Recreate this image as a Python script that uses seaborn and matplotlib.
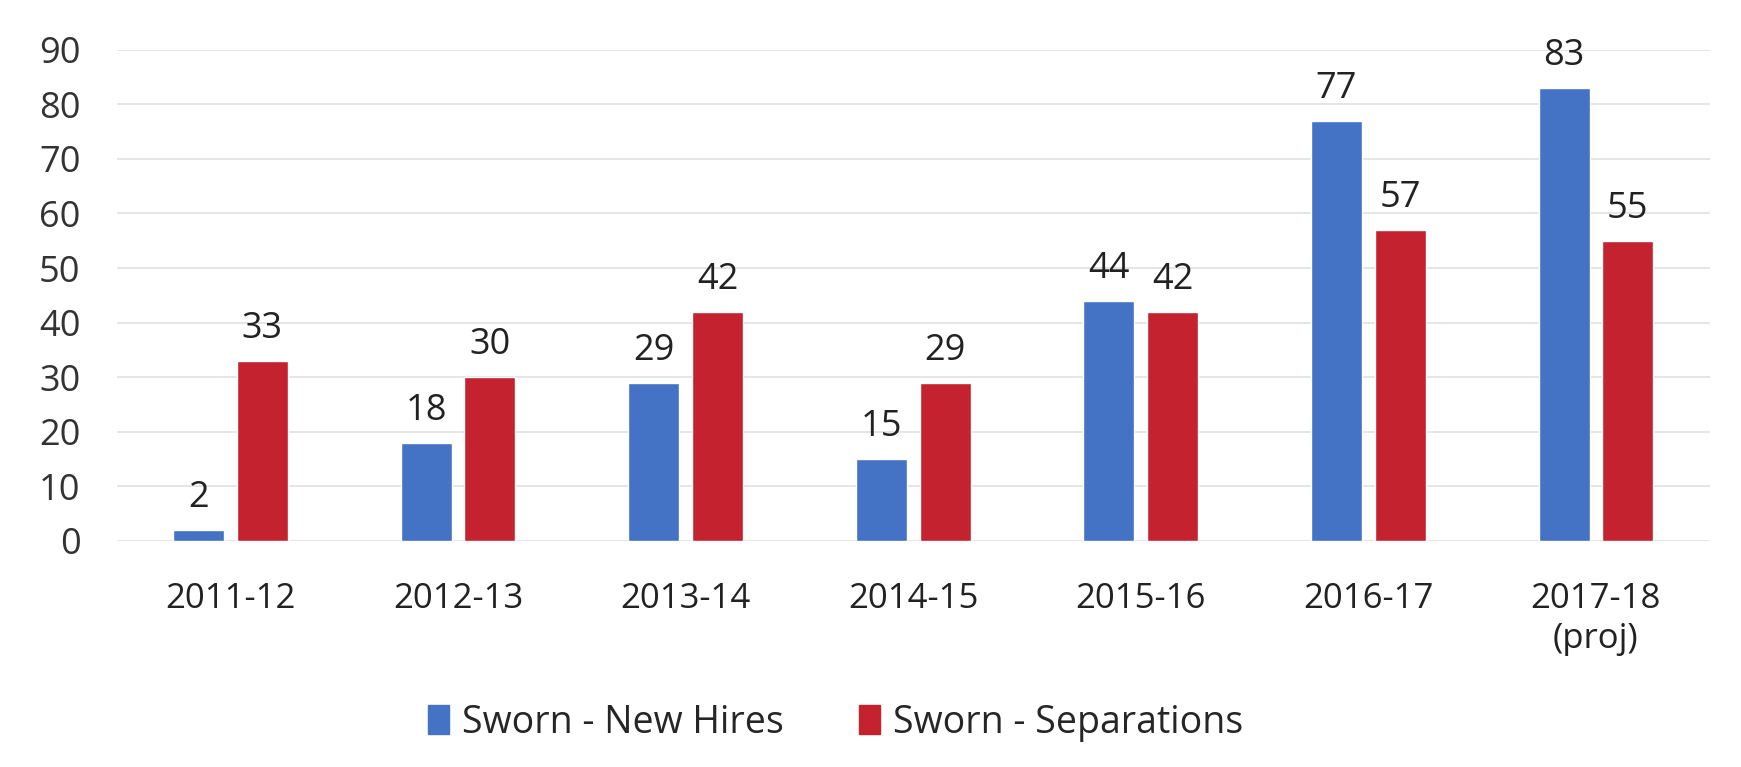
import pandas as pd
import matplotlib
matplotlib.use("Agg")
import matplotlib.pyplot as plt
import seaborn as sns

years = ["2011-12", "2012-13", "2013-14", "2014-15", "2015-16", "2016-17", "2017-18\n(proj)"]
new_hires = [2, 18, 29, 15, 44, 77, 83]
separations = [33, 30, 42, 29, 42, 57, 55]
series_names = ["Sworn - New Hires", "Sworn - Separations"]
colors = ["#4472C4", "#C4222F"]

df = pd.DataFrame({
    "year": years * 2,
    "count": new_hires + separations,
    "series": [series_names[0]] * len(years) + [series_names[1]] * len(years),
})

sns.set_style("white")
plt.rcParams["font.family"] = ["Open Sans", "DejaVu Sans"]

fig = plt.figure(figsize=(17.41, 7.67), dpi=100)
ax = fig.add_axes([0.067, 0.295, 0.915, 0.64])

sns.barplot(data=df, x="year", y="count", hue="series", palette=colors,
            width=0.56, gap=0.2, saturation=1, ax=ax, legend=False)

ax.set_ylim(0, 90)
ax.set_xlim(-0.5, len(years) - 0.5)
ax.set_yticks(range(0, 91, 10))
ax.grid(axis="y", color="#E0E0E0", linewidth=1.2)
ax.set_axisbelow(True)
for s in ax.spines.values():
    s.set_visible(False)
ax.set_xlabel("")
ax.set_ylabel("")
ax.tick_params(axis="y", length=0, pad=26, labelsize=26, labelcolor="#333333")
ax.tick_params(axis="x", length=0, pad=30, labelsize=25, labelcolor="#222222")

for container in ax.containers:
    ax.bar_label(container, padding=10, fontsize=26, color="#222222", clip_on=False)

handles = [plt.Rectangle((0, 0), 1, 1, color=c) for c in colors]
fig.legend(handles, series_names, loc="center", bbox_to_anchor=(0.48, 0.058),
           ncol=2, frameon=False, prop={"size": 27},
           handlelength=0.55, handleheight=0.85, handletextpad=0.35, columnspacing=2.0)

fig.savefig("out.png", dpi=100, facecolor="white")
